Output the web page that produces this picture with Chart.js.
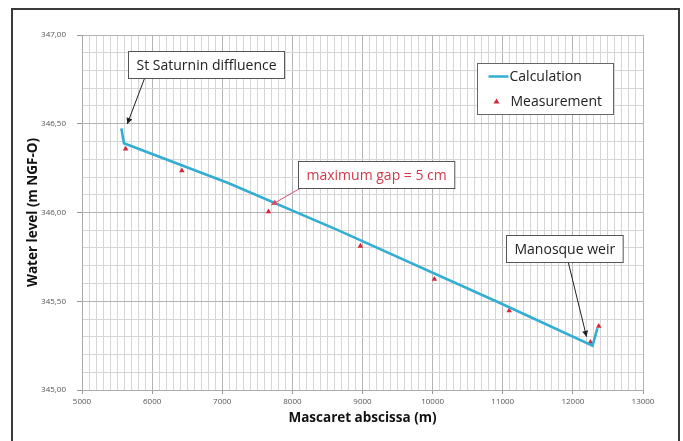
<!DOCTYPE html>
<html>
<head>
<meta charset="utf-8">
<script src="https://cdn.jsdelivr.net/npm/chart.js@4"></script>
<style>
  html, body { margin: 0; padding: 0; background: #fff; }
  canvas { display: block; }
</style>
</head>
<body>
<canvas id="levelChart" width="683" height="441"></canvas>
<script>
// Calculated water line (Mascaret abscissa in m, level in m NGF-O)
const calcX = [5561, 5598, 7093, 8649, 10960, 12280, 12350];
const calcY = [346.474, 346.39, 346.165, 345.901, 345.49, 345.25, 345.348];

// Measured levels
const measX = [5622, 6424, 7659, 8970, 10025, 11092, 12250, 12369];
const measY = [346.358, 346.236, 346.005, 345.811, 345.624, 345.447, 345.27, 345.36];

// Axis ranges / tick labels
const xTicks = [5000, 6000, 7000, 8000, 9000, 10000, 11000, 12000, 13000];
const yTicks = [345.0, 345.5, 346.0, 346.5, 347.0];

// Callout boxes: text, box centre and arrow (in axis units)
const callouts = [
  { text: 'St Saturnin diffluence', cx: 6771, cy: 346.834, baseX: 5891, tipX: 5646, tipY: 346.499, color: '#222', arrow: '#222' },
  { text: 'maximum gap = 5 cm', cx: 9198, cy: 346.215, baseX: 8106, tipX: 7697, tipY: 346.042, color: '#d0384a', arrow: '#d8506a' },
  { text: 'Manosque weir', cx: 11872, cy: 345.798, baseX: 11935, tipX: 12195, tipY: 345.30, color: '#222', arrow: '#222' }
];
const legendBox = { x1: 10638, y1: 346.84, x2: 12570, y2: 346.553 };

const LINE_COLOR = '#33add2';
const MEAS_COLOR = '#d3283a';
const TEXT_FONT = '"Open Sans", Lato, sans-serif';

const pts = (xs, ys) => xs.map((v, i) => ({ x: v, y: ys[i] }));
const isHalf = v => Math.abs(v * 2 - Math.round(v * 2)) < 1e-6;
const isThousand = v => Math.abs(v / 1000 - Math.round(v / 1000)) < 1e-6;

function arrowHead(ctx, fx, fy, tx, ty, len, wid) {
  const a = Math.atan2(ty - fy, tx - fx);
  ctx.beginPath();
  ctx.moveTo(tx, ty);
  ctx.lineTo(tx - len * Math.cos(a) + wid * Math.sin(a), ty - len * Math.sin(a) - wid * Math.cos(a));
  ctx.lineTo(tx - len * Math.cos(a) - wid * Math.sin(a), ty - len * Math.sin(a) + wid * Math.cos(a));
  ctx.closePath();
  ctx.fill();
}

// Frame, callouts and legend drawn on top of the chart
const overlay = {
  id: 'overlay',
  afterDraw(chart) {
    const { ctx, scales: { x, y } } = chart;
    ctx.save();

    ctx.strokeStyle = '#3a3a3a';
    ctx.lineWidth = 2;
    ctx.beginPath();
    ctx.moveTo(12, 441);
    ctx.lineTo(12, 9);
    ctx.lineTo(679, 9);
    ctx.lineTo(679, 441);
    ctx.stroke();

    ctx.font = '14px ' + TEXT_FONT;
    ctx.textBaseline = 'middle';
    callouts.forEach(c => {
      const px = x.getPixelForValue(c.cx);
      const py = y.getPixelForValue(c.cy);
      const tw = ctx.measureText(c.text).width;
      const w = tw + 16, h = 27;
      const left = Math.round(px - w / 2) + 0.5, top = Math.round(py - h / 2) + 0.5;

      const bx = x.getPixelForValue(c.baseX), by = top + h;
      const tx = x.getPixelForValue(c.tipX), ty = y.getPixelForValue(c.tipY);
      ctx.strokeStyle = c.arrow;
      ctx.fillStyle = c.arrow;
      ctx.lineWidth = 1;
      ctx.beginPath();
      ctx.moveTo(bx, by);
      ctx.lineTo(tx, ty);
      ctx.stroke();
      arrowHead(ctx, bx, by, tx, ty, 6, 3);

      ctx.fillStyle = '#fff';
      ctx.fillRect(left, top, w, h);
      ctx.strokeStyle = '#555';
      ctx.strokeRect(left, top, w, h);
      ctx.fillStyle = c.color;
      ctx.textAlign = 'left';
      ctx.fillText(c.text, left + 8, top + h / 2 + 1);
    });

    // legend
    const lx1 = Math.round(x.getPixelForValue(legendBox.x1)) + 0.5;
    const ly1 = Math.round(y.getPixelForValue(legendBox.y1)) + 0.5;
    const lx2 = Math.round(x.getPixelForValue(legendBox.x2)) + 0.5;
    const ly2 = Math.round(y.getPixelForValue(legendBox.y2)) + 0.5;
    ctx.fillStyle = '#fff';
    ctx.fillRect(lx1, ly1, lx2 - lx1, ly2 - ly1);
    ctx.strokeStyle = '#666';
    ctx.lineWidth = 1;
    ctx.strokeRect(lx1, ly1, lx2 - lx1, ly2 - ly1);

    const ds = chart.data.datasets;
    const row1 = ly1 + 13, row2 = ly1 + 38;
    ctx.strokeStyle = ds[0].borderColor;
    ctx.lineWidth = 2.5;
    ctx.beginPath();
    ctx.moveTo(lx1 + 11, row1);
    ctx.lineTo(lx1 + 31, row1);
    ctx.stroke();
    ctx.fillStyle = ds[1].backgroundColor;
    ctx.beginPath();
    ctx.moveTo(lx1 + 19, row2 - 3);
    ctx.lineTo(lx1 + 22, row2 + 2);
    ctx.lineTo(lx1 + 16, row2 + 2);
    ctx.closePath();
    ctx.fill();
    ctx.fillStyle = '#222';
    ctx.textAlign = 'left';
    ctx.fillText(ds[0].label, lx1 + 32, row1 + 1);
    ctx.fillText(ds[1].label, lx1 + 33, row2 + 1);

    ctx.restore();
  }
};

const chart = new Chart(document.getElementById('levelChart'), {
  type: 'scatter',
  data: {
    datasets: [
      {
        label: 'Calculation',
        data: pts(calcX, calcY),
        showLine: true,
        borderColor: LINE_COLOR,
        backgroundColor: LINE_COLOR,
        borderWidth: 2.6,
        pointRadius: 0,
        tension: 0
      },
      {
        label: 'Measurement',
        data: pts(measX, measY),
        pointStyle: 'triangle',
        pointRadius: 3.2,
        borderWidth: 0,
        backgroundColor: MEAS_COLOR,
        borderColor: MEAS_COLOR
      }
    ]
  },
  options: {
    responsive: false,
    animation: false,
    layout: { padding: { top: 35, right: 40, left: 0, bottom: 0 } },
    plugins: { legend: { display: false }, tooltip: { enabled: false } },
    scales: {
      x: {
        type: 'linear',
        min: xTicks[0],
        max: xTicks[xTicks.length - 1],
        afterFit: s => { s.height = 51; },
        border: { color: '#aaa' },
        grid: {
          color: c => isThousand(c.tick.value) ? '#b4b4b4' : '#d6d6d6',
          tickColor: c => isThousand(c.tick.value) ? '#999' : 'rgba(0,0,0,0)',
          tickLength: 4,
          lineWidth: 1
        },
        ticks: {
          stepSize: 100,
          maxTicksLimit: 100,
          autoSkip: false,
          maxRotation: 0,
          padding: 3,
          color: '#555',
          font: { family: TEXT_FONT, size: 8 },
          callback: v => xTicks.includes(v) ? String(v) : ''
        },
        title: {
          display: true,
          text: 'Mascaret abscissa (m)',
          color: '#111',
          font: { family: TEXT_FONT, size: 13.5, weight: 'bold' },
          padding: { top: 0, bottom: 15 }
        }
      },
      y: {
        type: 'linear',
        min: yTicks[0],
        max: yTicks[yTicks.length - 1],
        afterFit: s => { s.width = 82; },
        border: { color: '#aaa' },
        grid: {
          color: c => isHalf(c.tick.value) ? '#b4b4b4' : '#d6d6d6',
          tickColor: c => isHalf(c.tick.value) ? '#999' : 'rgba(0,0,0,0)',
          tickLength: 5,
          lineWidth: 1
        },
        ticks: {
          stepSize: 0.1,
          maxTicksLimit: 40,
          autoSkip: false,
          padding: 11,
          color: '#555',
          font: { family: TEXT_FONT, size: 8 },
          callback: v => isHalf(v) ? v.toFixed(2).replace('.', ',') : ''
        },
        title: {
          display: true,
          text: 'Water level (m NGF-O)',
          color: '#111',
          font: { family: TEXT_FONT, size: 13.5, weight: 'bold' },
          padding: { top: 25, bottom: 0 }
        }
      }
    }
  },
  plugins: [overlay]
});
</script>
</body>
</html>
